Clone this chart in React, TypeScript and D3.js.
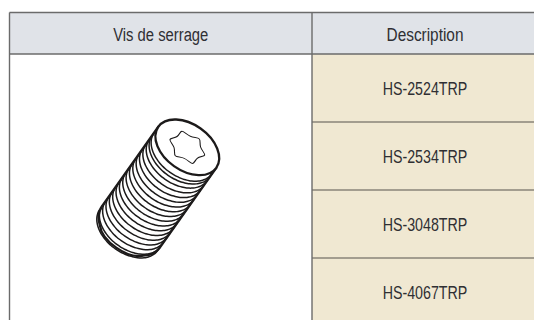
import { useEffect, useRef } from "react";
import * as d3 from "d3";

const HEADERS = ["Vis de serrage", "Description"];
const HEADER_SQUEEZE = [0.78, 0.81];
const DESCRIPTIONS = ["HS-2524TRP", "HS-2534TRP", "HS-3048TRP", "HS-4067TRP"];
// thread positions along the screw, px below the head centre
const THREADS = [7.5, 11, 16, 21.8, 27.6, 33.4, 39.2, 45, 50.8, 56.6, 62.4, 68.2, 74, 79.8, 85.6, 91.4, 97, 101.5];
// torx outline: lobe / valley radii, 12 points round the drive
const TORX_RADII = [23.5, 12.5, 23.5, 12.5, 23.5, 12.5, 23.5, 12.5, 23.5, 12.5, 23.5, 12.5];

export default function App() {
	const ref = useRef<SVGSVGElement | null>(null);

	useEffect(() => {
		const svg = d3.select(ref.current);
		svg.selectAll("*").remove();

		const margin = { top: 12.5, left: 9.5, right: 538, bottom: 326 };
		const headerBottom = 54;
		const colX = 312;
		const font = "'Liberation Sans', sans-serif";
		const fontSize = 19;
		const ink = "#2f2f33";

		const rowY = d3.scaleBand<string>().domain(DESCRIPTIONS).range([headerBottom, margin.bottom]);

		// Header band and description cells
		svg.append("rect")
			.attr("x", margin.left).attr("y", margin.top)
			.attr("width", margin.right - margin.left).attr("height", headerBottom - margin.top)
			.attr("fill", "#e0e3e8");

		svg.selectAll("rect.cell")
			.data(DESCRIPTIONS)
			.enter()
			.append("rect")
			.attr("class", "cell")
			.attr("x", colX).attr("y", d => rowY(d)!)
			.attr("width", margin.right - colX).attr("height", rowY.bandwidth())
			.attr("fill", "#f0e8d2");

		// Row rules
		svg.selectAll("line.row")
			.data(DESCRIPTIONS.slice(1))
			.enter()
			.append("line")
			.attr("class", "row")
			.attr("x1", colX).attr("x2", margin.right)
			.attr("y1", d => rowY(d)!).attr("y2", d => rowY(d)!)
			.attr("stroke", "#8a8478").attr("stroke-width", 1.6);

		// Table frame
		const frame = "#6b6b6b";
		[
			[margin.left, margin.top, margin.right, margin.top],
			[margin.left, headerBottom, margin.right, headerBottom],
			[margin.left, margin.top, margin.left, margin.bottom],
			[colX, margin.top, colX, margin.bottom],
		].forEach(([x1, y1, x2, y2]) => {
			svg.append("line")
				.attr("x1", x1).attr("y1", y1).attr("x2", x2).attr("y2", y2)
				.attr("stroke", frame).attr("stroke-width", 1.4);
		});

		// Text: no condensed face is installed, so squeeze the regular one
		const textX = [(margin.left + colX) / 2, (colX + margin.right) / 2];
		HEADERS.forEach((h, i) => {
			svg.append("text")
				.attr("transform", `translate(${textX[i]},41) scale(${HEADER_SQUEEZE[i]},1)`)
				.attr("text-anchor", "middle")
				.attr("font-family", font).attr("font-size", fontSize)
				.attr("fill", ink)
				.text(h);
		});

		svg.selectAll("text.desc")
			.data(DESCRIPTIONS)
			.enter()
			.append("text")
			.attr("class", "desc")
			.attr("transform", d => `translate(${textX[1]},${rowY(d)! + rowY.bandwidth() / 2 + 7}) scale(0.75,1)`)
			.attr("text-anchor", "middle")
			.attr("font-family", font).attr("font-size", fontSize)
			.attr("fill", ink)
			.text(d => d);

		// Screw drawing, local frame: y runs along the screw axis
		const R = 35.5;
		const r = 23;
		const length = 105;
		const screw = svg.append("g")
			.attr("transform", "translate(187.3,147.3) rotate(35.3)")
			.attr("fill", "none")
			.attr("stroke", "#1c1a1a")
			.attr("stroke-linecap", "round");

		const angles = d3.range(0, 1.0001, 1 / 40).map(t => t * Math.PI);
		const arc = d3.line<number>()
			.x(a => R * Math.cos(a))
			.y(a => r * Math.sin(a))
			.curve(d3.curveBasis);

		// Threads
		screw.selectAll("path.thread")
			.data(THREADS)
			.enter()
			.append("path")
			.attr("class", "thread")
			.attr("d", arc(angles))
			.attr("transform", d => `translate(0,${d})`)
			.attr("stroke-width", 1.5);

		// Body
		const endR = 7;
		const body = d3.path();
		body.moveTo(-R, 0);
		body.lineTo(-R, length - endR);
		body.quadraticCurveTo(-R, length + 2, -R + 9, length + 9);
		body.bezierCurveTo(-R + 20, length + r - 2, R - 20, length + r - 2, R - 9, length + 9);
		body.quadraticCurveTo(R, length + 2, R, length - endR);
		body.lineTo(R, 0);
		screw.append("path").attr("d", body.toString()).attr("stroke-width", 2.3);

		// Head
		screw.append("ellipse")
			.attr("rx", R).attr("ry", r)
			.attr("fill", "#fff").attr("stroke-width", 2.3);

		// Torx drive
		const torx = d3.lineRadial<number>()
			.angle((_, i) => (i / TORX_RADII.length) * 2 * Math.PI + 0.26)
			.radius(d => d)
			.curve(d3.curveBasisClosed);

		screw.append("path")
			.attr("d", torx(TORX_RADII))
			.attr("transform", "scale(1,0.74)")
			.attr("stroke-width", 1.2);
	}, []);

	return (
		<svg
			ref={ref}
			width={534}
			height={320}
			style={{ position: "absolute", left: 0, top: 0, background: "#fff" }}
		/>
	);
}
